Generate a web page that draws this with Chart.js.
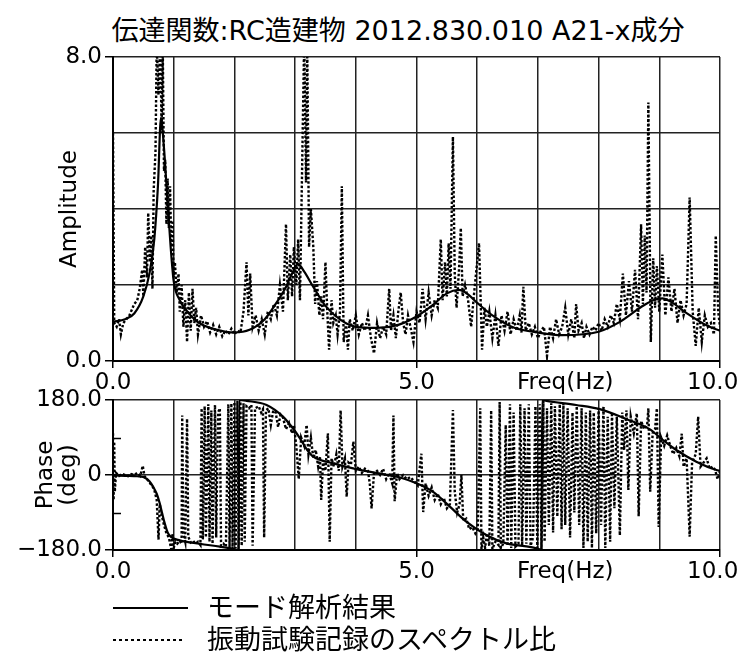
<!DOCTYPE html>
<html lang="ja">
<head>
<meta charset="utf-8">
<title>伝達関数:RC造建物 2012.830.010 A21-x成分</title>
<script src="https://cdn.jsdelivr.net/npm/chart.js@4.4.1/dist/chart.umd.min.js"></script>
<style>
    body { margin: 0; background: #fff; overflow: hidden; }
    #wrap { position: relative; width: 742px; height: 653px; font-family: 'DejaVu Sans', 'Noto Sans CJK JP', sans-serif; color: #000; }
    #wrap canvas { position: absolute; left: 0; }
    #title { position: absolute; left: 0; top: 15px; width: 796px; text-align: center; font-size: 27px; line-height: 32px; white-space: nowrap; }
    .legText { position: absolute; left: 207px; font-size: 27px; line-height: 32px; white-space: nowrap; }
    .legLine { position: absolute; left: 113px; }
</style>
</head>
<body>
<div id="wrap">
    <div id="title">伝達関数:RC造建物 2012.830.010 A21-x成分</div>
    <canvas id="ampChart" width="742" height="400" style="top:0"></canvas>
    <canvas id="phaseChart" width="742" height="240" style="top:360px"></canvas>
    <svg class="legLine" style="top:600px" width="80" height="16"><line x1="0" y1="8" x2="75" y2="8" stroke="#000" stroke-width="2"/></svg>
    <div class="legText" style="top:592px">モード解析結果</div>
    <svg class="legLine" style="top:632px" width="80" height="16"><line x1="0" y1="8" x2="70" y2="8" stroke="#000" stroke-width="2" stroke-dasharray="3 3"/></svg>
    <div class="legText" style="top:624px">振動試験記録のスペクトル比</div>
</div>
<script>
// --- ticks / labels ---
const freqLabelValues = [0, 5, 10];
const freqLabelTexts = ['0.0', '5.0', '10.0\u00a0\u00a0'];
const freqNameAt = 7.45;
const ampLabelValues = [0, 8];
const ampLabelTexts = ['0.0', '8.0'];
const phaseLabelValues = [-180, 0, 180];
const phaseLabelTexts = ['\u2212180.0', '0', '180.0'];
const phaseMinorTicks = [-90, 90];

// --- amplitude: mode analysis ---
const ampModeFreq = [0, 0.2, 0.35, 0.5, 0.6, 0.68, 0.74, 0.79, 0.84, 0.9, 0.95, 1.0, 1.1, 1.2, 1.4, 1.7,
    2.0, 2.25, 2.5, 2.7, 2.85, 2.95, 3.05, 3.15, 3.3, 3.5, 3.75, 4.0, 4.35, 4.7, 5.0, 5.25, 5.5, 5.7,
    5.85, 6.0, 6.25, 6.6, 7.0, 7.4, 8.0, 8.35, 8.7, 8.9, 9.05, 9.2, 9.45, 9.8, 10.0];
const ampModeVal = [1.03, 1.1, 1.25, 1.7, 2.3, 3.2, 4.6, 6.4, 5.6, 4.15, 3.0, 2.1, 1.6, 1.35, 1.02, 0.83,
    0.75, 0.82, 1.1, 1.55, 1.95, 2.3, 2.55, 2.35, 1.95, 1.45, 1.08, 0.9, 0.87, 0.95, 1.17, 1.45, 1.78, 1.87,
    1.75, 1.53, 1.2, 0.88, 0.75, 0.68, 0.77, 1.03, 1.42, 1.6, 1.65, 1.55, 1.26, 0.92, 0.8];

// --- amplitude: spectral ratio of records ---
const ampSpecFreq = [
    0.00, 0.02, 0.06, 0.10, 0.13, 0.17, 0.22, 0.27, 0.31, 0.35, 0.40, 0.44, 0.48, 0.50, 0.53, 0.56, 0.58, 0.61, 0.63, 0.65,
    0.67, 0.70, 0.72, 0.75, 0.78, 0.80, 0.82, 0.84, 0.86, 0.88, 0.90, 0.92, 0.94, 0.96, 0.98,
    1.00, 1.02, 1.05, 1.08, 1.10, 1.13, 1.16, 1.19, 1.22, 1.25, 1.28, 1.31, 1.34, 1.37, 1.40, 1.45, 1.50, 1.55, 1.60, 1.65,
    1.70, 1.75, 1.80, 1.85, 1.90, 1.95,
    2.00, 2.05, 2.10, 2.15, 2.20, 2.23, 2.26, 2.30, 2.35, 2.40, 2.45, 2.50, 2.55, 2.60, 2.65, 2.70, 2.75, 2.80, 2.85, 2.88,
    2.92, 2.95, 2.98,
    3.02, 3.05, 3.08, 3.12, 3.15, 3.18, 3.20, 3.23, 3.26, 3.30, 3.33, 3.36, 3.40, 3.43, 3.46, 3.50, 3.53, 3.56, 3.60, 3.63,
    3.67, 3.70, 3.74, 3.77, 3.80, 3.84, 3.87, 3.90, 3.95,
    4.00, 4.05, 4.10, 4.15, 4.20, 4.25, 4.30, 4.35, 4.40, 4.45, 4.50, 4.55, 4.58, 4.62, 4.66, 4.70, 4.74, 4.78, 4.82, 4.86,
    4.90, 4.95,
    5.00, 5.05, 5.10, 5.15, 5.20, 5.25, 5.30, 5.35, 5.40, 5.43, 5.47, 5.50, 5.53, 5.56, 5.60, 5.63, 5.66, 5.70, 5.73, 5.76,
    5.80, 5.85, 5.90, 5.95,
    6.03, 6.08, 6.12, 6.16, 6.20, 6.25, 6.30, 6.35, 6.40, 6.45, 6.50, 6.55, 6.60, 6.65, 6.70, 6.73, 6.76, 6.80, 6.85, 6.90,
    6.95,
    7.00, 7.05, 7.10, 7.15, 7.20, 7.25, 7.30, 7.35, 7.40, 7.45, 7.50, 7.55, 7.60, 7.63, 7.67, 7.72, 7.76, 7.80, 7.85, 7.90,
    7.95,
    8.00, 8.05, 8.10, 8.15, 8.20, 8.25, 8.30, 8.35, 8.40, 8.45, 8.50, 8.55, 8.60, 8.65, 8.70, 8.73, 8.76, 8.79, 8.82, 8.86,
    8.90, 8.93, 8.96,
    9.00, 9.05, 9.10, 9.15, 9.20, 9.25, 9.30, 9.35, 9.40, 9.45, 9.50, 9.55, 9.60, 9.65, 9.70, 9.75, 9.80, 9.85, 9.90, 9.93,
    9.97, 10.00];
const ampSpecVal = [
    6.0, 1.0, 0.9, 1.1, 0.7, 1.0, 1.1, 1.2, 1.35, 1.5, 1.6, 1.9, 2.4, 1.7, 3.0, 2.2, 3.9, 2.6, 3.3, 1.9,
    4.5, 5.5, 8.3, 7.0, 8.5, 6.0, 8.2, 5.0, 5.3, 3.6, 4.8, 3.5, 4.6, 3.0, 3.7,
    2.2, 2.6, 1.8, 2.3, 1.3, 2.0, 0.9, 1.6, 0.5, 1.8, 0.8, 1.9, 1.0, 1.4, 0.7, 1.2, 0.9, 1.05, 0.75, 0.95,
    0.7, 0.9, 0.65, 0.8, 0.7, 0.85,
    0.7, 0.8, 0.75, 1.3, 2.6, 1.2, 2.3, 0.9, 1.2, 0.8, 1.1, 0.7, 1.3, 1.1, 1.5, 1.2, 2.0, 1.3, 3.6, 1.6,
    2.8, 1.7, 3.0,
    2.0, 3.2, 1.6, 5.5, 8.5, 4.7, 8.3, 3.0, 4.0, 3.0, 1.5, 2.1, 1.2, 1.7, 1.1, 2.6, 1.3, 0.3, 1.6, 1.0,
    1.2, 0.7, 1.3, 4.6, 0.5, 1.0, 0.3, 1.1, 0.8,
    1.2, 0.7, 1.0, 0.8, 1.2, 0.6, 0.2, 1.0, 0.6, 0.9, 0.7, 1.9, 0.8, 1.2, 0.6, 1.3, 1.8, 1.0, 0.7, 1.2,
    0.9, 0.5,
    1.3, 1.0, 1.9, 1.1, 1.8, 1.2, 1.6, 1.4, 3.2, 1.6, 2.6, 1.7, 3.1, 1.9, 5.9, 2.3, 1.4, 2.4, 3.5, 1.7,
    2.0, 1.6, 0.9, 1.8,
    3.1, 0.3, 1.4, 0.9, 1.3, 0.6, 1.2, 0.4, 1.2, 0.8, 1.3, 0.7, 1.1, 0.8, 1.2, 0.75, 1.95, 0.8, 1.0, 0.7,
    0.9,
    0.6, 0.8, 0.9, 0.13, 0.9, 0.6, 1.1, 0.7, 0.9, 1.4, 0.7, 1.1, 0.6, 1.5, 0.8, 1.0, 0.6, 0.9, 0.7, 0.9,
    0.8,
    1.0, 0.8, 1.1, 0.9, 1.2, 1.0, 1.5, 1.1, 2.3, 1.2, 2.1, 1.3, 2.4, 1.1, 3.6, 1.5, 3.3, 1.8, 6.8, 0.5,
    2.7, 1.4, 2.5,
    1.3, 2.8, 1.2, 2.2, 1.3, 1.9, 1.0, 1.6, 1.2, 1.5, 4.3, 1.3, 0.4, 1.4, 0.5, 1.2, 0.9, 1.0, 0.7, 3.3,
    1.3, 0.9];

// --- phase: mode analysis ---
const phaseModeFreq = [0, 0.2, 0.4, 0.5, 0.6, 0.66, 0.72, 0.77, 0.81, 0.85, 0.9, 0.95, 1.1, 1.43, 1.76, 1.97,
    2.07, 2.08, 2.2, 2.53, 2.8, 3.0, 3.08, 3.2, 3.3, 3.63, 4.01, 4.45, 4.73, 5.0, 5.27, 5.55, 5.82, 6.15,
    6.48, 6.75, 6.98, 7.06, 7.07, 7.14, 7.63, 8.02, 8.46, 8.84, 9.06, 9.28, 9.61, 9.94, 10.0];
const phaseModeVal = [-1, -2, -3, -5, -15, -28, -45, -68, -92, -115, -138, -148, -157, -165, -172, -177,
    -180, 180, 178, 168, 140, 105, 88, 60, 44, 28, 14, 2, -6, -20, -40, -76, -112, -144,
    -164, -170, -176, -180, 180, 178, 168, 158, 134, 110, 84, 60, 32, 12, 10];

// --- phase: spectral ratio of records ---
const phaseSpecFreq = [
    0.00, 0.01, 0.02, 0.03, 0.05, 0.10, 0.15, 0.20, 0.25, 0.30, 0.35, 0.40, 0.45, 0.49, 0.52, 0.56, 0.60, 0.64, 0.68, 0.72,
    0.75, 0.77, 0.80, 0.84, 0.88, 0.92, 0.96, 0.98,
    1.00, 1.03, 1.06, 1.10, 1.13, 1.14, 1.16, 1.19, 1.22, 1.24, 1.28, 1.32, 1.36, 1.40, 1.44, 1.46, 1.48, 1.51, 1.53, 1.57,
    1.59, 1.62, 1.64, 1.68, 1.70, 1.73, 1.76, 1.78, 1.82, 1.86, 1.90, 1.92, 1.95, 1.97,
    2.00, 2.02, 2.05, 2.07, 2.10, 2.12, 2.15, 2.17, 2.20, 2.24, 2.28, 2.30, 2.34, 2.40, 2.44, 2.47, 2.49, 2.52, 2.56, 2.60,
    2.64, 2.68, 2.72, 2.76, 2.80, 2.85, 2.90, 2.95, 2.98,
    3.02, 3.06, 3.10, 3.15, 3.19, 3.22, 3.26, 3.30, 3.34, 3.38, 3.41, 3.43, 3.46, 3.50, 3.54, 3.57, 3.60, 3.64, 3.68, 3.72,
    3.75, 3.78, 3.82, 3.85, 3.88, 3.92, 3.96,
    4.00, 4.05, 4.10, 4.15, 4.20, 4.23, 4.26, 4.30, 4.35, 4.40, 4.45, 4.50, 4.55, 4.60, 4.62, 4.64, 4.68, 4.72, 4.78, 4.84,
    4.90, 4.96,
    5.02, 5.08, 5.11, 5.15, 5.20, 5.25, 5.30, 5.35, 5.40, 5.45, 5.50, 5.55, 5.60, 5.63, 5.67, 5.71, 5.74, 5.77, 5.82, 5.87,
    5.92, 5.97,
    6.01, 6.05, 6.07, 6.10, 6.13, 6.16, 6.20, 6.23, 6.25, 6.30, 6.35, 6.37, 6.39, 6.43, 6.47, 6.50, 6.54, 6.56, 6.60, 6.63,
    6.68, 6.71, 6.74, 6.78, 6.81, 6.85, 6.88, 6.92, 6.96, 6.99,
    7.03, 7.06, 7.09, 7.11, 7.15, 7.18, 7.22, 7.25, 7.28, 7.32, 7.36, 7.39, 7.42, 7.45, 7.49, 7.53, 7.57, 7.60, 7.64, 7.68,
    7.72, 7.75, 7.79, 7.82, 7.86, 7.89, 7.92, 7.96,
    8.00, 8.04, 8.08, 8.11, 8.15, 8.19, 8.22, 8.26, 8.30, 8.35, 8.39, 8.42, 8.46, 8.49, 8.53, 8.58, 8.63, 8.66, 8.70, 8.75,
    8.80, 8.82, 8.85, 8.89, 8.93, 8.96, 8.99,
    9.03, 9.08, 9.13, 9.18, 9.23, 9.28, 9.33, 9.37, 9.40, 9.45, 9.50, 9.54, 9.60, 9.64, 9.68, 9.73, 9.78, 9.83, 9.88, 9.92,
    9.96, 10.00];
const phaseSpecVal = [
    100, -60, 80, -40, 5, -2, 3, 0, -3, 2, 0, 5, -2, 22, -3, -10, -18, -25, -35, -60,
    -155, -70, -95, -120, -140, -150, -178, -140,
    -175, -160, -165, -158, -165, 143, -140, -160, 135, -148, -162, -158, -165, -160, -168, 160, -155, 165, -150, 170,
    -160, 155, -165, 168, -150, 150, 160, -170, -165, -172, 170, -175, 172, -178,
    175, -176, 178, -178, 176, -170, 172, -160, 165, 160, 168, -170, 160, 165, 150, 158, -150, 155, 160, 120,
    155, 150, 115, 145, 138, 110, 125, 100, 120,
    70, -10, 90, 70, 120, 50, 90, 40, 60, 20, 45, -60, 30, 10, 100, -160, 40, 20, 50, 10,
    155, 20, 40, -52, 30, 25, 80,
    10, 20, 5, 15, 10, -20, -80, 5, 10, 0, 15, -10, 5, -20, 143, -63, 5, -10, 0, -10,
    -5, -15,
    -25, 51, -89, -20, -50, -30, -60, -45, -70, -55, -80, -70, 156, -40, -90, -70, 0, -110, -105, -130,
    -125, -140,
    -130, 160, -178, -150, -175, -140, -170, 155, -178, -160, -168, 175, -175, -165, 120, -170, 170, -175, 150, -172,
    -165, 170, -170, 160, -165, 170, -170, -150, 165, -175,
    170, -178, 178, -160, 160, -120, 172, -138, 165, -100, 170, -130, 172, -120, 160, -150, 150, -90, 165, -120,
    160, -175, 150, -160, 155, -175, 150, -140,
    160, -120, 165, -175, 140, -160, 150, -80, 140, -145, 150, 60, 155, -36, 140, 100, 148, -99, 130, 110,
    120, 160, -40, 100, 110, 160, -125,
    90, 70, 95, 70, 50, 65, 45, 99, 20, 40, -148, 30, 50, 140, 20, 30, 40, 15, 20, 12,
    -10, 8];

const fontFamily = "'DejaVu Sans', 'Noto Sans CJK JP', sans-serif";
const tickFont = { family: fontFamily, size: 23 };
const gridColor = '#222';

function toPoints(xs, ys) {
    return xs.map((x, i) => ({ x: x, y: ys[i] }));
}

function labelFor(values, texts) {
    return function(value) {
        const i = values.indexOf(value);
        return i >= 0 ? texts[i] : '';
    };
}

function freqAxis(axisHeight) {
    const freqLabel = labelFor(freqLabelValues, freqLabelTexts);
    return {
        type: 'linear',
        min: 0,
        max: 10,
        afterBuildTicks: scale => { scale.ticks.push({ value: freqNameAt }); },
        afterFit: scale => {
            scale.height = axisHeight;
            scale.paddingLeft = 0;
            scale.paddingRight = 0;
        },
        ticks: {
            stepSize: 1,
            autoSkip: false,
            maxRotation: 0,
            padding: 1,
            color: '#000',
            font: tickFont,
            callback: value => value === freqNameAt ? 'Freq(Hz)' : freqLabel(value)
        },
        grid: {
            color: ctx => Number.isInteger(ctx.tick.value) ? gridColor : 'rgba(0,0,0,0)',
            lineWidth: 1.5,
            tickLength: 7,
            tickWidth: 1.5,
            tickColor: ctx => freqLabelValues.includes(ctx.tick.value) ? '#000' : 'rgba(0,0,0,0)'
        },
        border: { color: '#000', width: 2 }
    };
}

function valueAxis(min, max, step, labelValues, labelTexts, title, hiddenGrid) {
    return {
        min: min,
        max: max,
        afterFit: scale => { scale.width = 113; },
        ticks: {
            stepSize: step,
            autoSkip: false,
            padding: 3,
            color: '#000',
            font: tickFont,
            callback: labelFor(labelValues, labelTexts)
        },
        grid: {
            color: ctx => hiddenGrid.includes(ctx.tick.value) ? 'rgba(0,0,0,0)' : gridColor,
            lineWidth: 1.5,
            tickLength: 8,
            tickWidth: 1.5,
            tickColor: ctx => labelValues.includes(ctx.tick.value) ? '#000' : 'rgba(0,0,0,0)'
        },
        border: { color: '#000', width: 2 },
        title: title
    };
}

function lineSets(modeData, specData) {
    return [
        {
            label: 'モード解析結果',
            data: modeData,
            borderColor: '#000',
            borderWidth: 2.2,
            pointRadius: 0,
            cubicInterpolationMode: 'monotone'
        },
        {
            label: '振動試験記録のスペクトル比',
            data: specData,
            borderColor: '#000',
            borderWidth: 2.4,
            borderDash: [2.5, 2],
            pointRadius: 0,
            tension: 0
        }
    ];
}

// short inner ticks at +-90 deg
const innerTicks = {
    id: 'innerTicks',
    afterDraw(chart) {
        const ctx = chart.ctx;
        const yScale = chart.scales.y;
        ctx.save();
        ctx.strokeStyle = '#000';
        ctx.lineWidth = 1.5;
        phaseMinorTicks.forEach(v => {
            const py = Math.round(yScale.getPixelForValue(v)) + 0.5;
            ctx.beginPath();
            ctx.moveTo(chart.chartArea.left, py);
            ctx.lineTo(chart.chartArea.left + 8, py);
            ctx.stroke();
        });
        ctx.restore();
    }
};

const commonOptions = {
    responsive: false,
    animation: false,
    devicePixelRatio: 1,
    events: [],
    plugins: { legend: { display: false }, tooltip: { enabled: false } }
};

new Chart(document.getElementById('ampChart'), {
    type: 'line',
    data: { datasets: lineSets(toPoints(ampModeFreq, ampModeVal), toPoints(ampSpecFreq, ampSpecVal)) },
    options: Object.assign({}, commonOptions, {
        layout: { padding: { top: 57, right: 22, left: 0, bottom: 0 } },
        scales: {
            x: freqAxis(39),
            y: valueAxis(0, 8, 2, ampLabelValues, ampLabelTexts, {
                display: true,
                text: 'Amplitude',
                color: '#000',
                font: { family: fontFamily, size: 23 },
                padding: { top: 56, bottom: 0 }
            }, [])
        }
    })
});

new Chart(document.getElementById('phaseChart'), {
    type: 'line',
    data: { datasets: lineSets(toPoints(phaseModeFreq, phaseModeVal), toPoints(phaseSpecFreq, phaseSpecVal)) },
    options: Object.assign({}, commonOptions, {
        layout: { padding: { top: 40, right: 22, left: 0, bottom: 0 } },
        scales: {
            x: freqAxis(50),
            y: valueAxis(-180, 180, 90, phaseLabelValues, phaseLabelTexts, {
                display: true,
                text: ['Phase', '(deg)'],
                color: '#000',
                font: { family: fontFamily, size: 23, lineHeight: 1.0 },
                padding: { top: 35, bottom: 0 }
            }, phaseMinorTicks)
        }
    }),
    plugins: [innerTicks]
});
</script>
</body>
</html>
